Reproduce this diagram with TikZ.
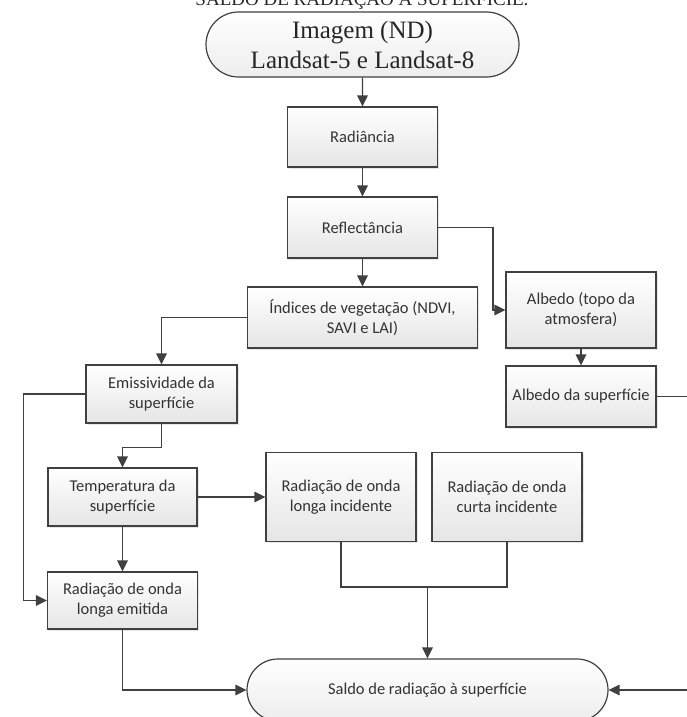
\documentclass[tikz,border=0pt]{standalone}
\usepackage{fontspec}
\setmainfont{Carlito}
\newfontfamily\titlefont{Liberation Serif}
\usetikzlibrary{arrows.meta, shapes.misc, shadows}
\definecolor{linegray}{HTML}{404040}
\definecolor{textgray}{HTML}{333333}

\begin{document}
\begin{tikzpicture}[
    x=1pt, y=-1pt,
    box/.style={rectangle, draw=linegray, line width=1.2pt, top color=white, bottom color=black!10,
        drop shadow={shadow xshift=1.5pt, shadow yshift=-1.5pt, opacity=0.2},
        text=textgray, font=\fontsize{16.5}{20}\selectfont, align=center, inner sep=0pt,
        minimum width=150pt, minimum height=60pt},
    term/.style={rounded rectangle, draw=linegray, line width=1.2pt, top color=white, bottom color=black!7,
        text=textgray, align=center, inner sep=0pt},
    arrow/.style={-{Triangle[length=11pt,width=10.5pt]}, line width=1.4pt, draw=linegray},
    plain/.style={line width=1.4pt, draw=linegray},
    caption/.style={font=\titlefont\fontsize{19}{22}\selectfont, text=black!85, anchor=base}
]
    \useasboundingbox (0,0) rectangle (687,717);

    % caption cut off at the top
    \node[caption] (cap) at (362, 6) {SALDO DE RADIAÇÃO À SUPERFÍCIE.};

    % main column
    \node[term, minimum width=313pt, minimum height=65pt, font=\titlefont\fontsize{25}{30}\selectfont, text=black!85]
        (img) at (362.5, 44.5) {Imagem (ND)\\Landsat-5 e Landsat-8};
    \node[box] (rad) at (362.5, 137) {Radiância};
    \node[box, minimum height=61pt] (refl) at (362.5, 227.5) {Reflectância};
    \node[box, minimum width=230pt, minimum height=61pt] (ndvi) at (362.5, 317.5) {Índices de vegetação (NDVI,\\SAVI e LAI)};

    % albedo
    \node[box, minimum height=76pt] (albtoa) at (581, 310) {Albedo (topo da\\atmosfera)};
    \node[box, minimum height=61pt] (albsup) at (581, 396.5) {Albedo da superfície};

    % left column
    \node[box, minimum width=151pt, minimum height=58pt] (emis) at (161.5, 394) {Emissividade da\\superfície};
    \node[box, minimum width=149pt, minimum height=58pt] (temp) at (122.5, 497) {Temperatura da\\superfície};
    \node[box, minimum height=57pt] (emit) at (122.5, 600.5) {Radiação de onda\\longa emitida};

    % incoming radiation
    \node[box, minimum height=89pt] (linc) at (341, 497) {Radiação de onda\\longa incidente};
    \node[box, minimum height=89pt] (cinc) at (507, 497) {Radiação de onda\\curta incidente};

    \node[term, minimum width=361pt, minimum height=62pt, font=\fontsize{16.5}{20}\selectfont]
        (saldo) at (427.5, 690) {Saldo de radiação à superfície};

    \coordinate (join) at (427.5, 587);
    \coordinate (edgeA) at (690, 396.5);
    \coordinate (edgeB) at (690, 690);

    % connectors
    \draw[arrow] (img) -- (rad);
    \draw[arrow] (rad) -- (refl);
    \draw[arrow] (refl) -- (ndvi);
    \draw[arrow] (refl.east) -- ++(55,0) |- (albtoa.west);
    \draw[arrow] (albtoa) -- (albsup);
    \draw[plain] (albsup.east) -- (edgeA);
    \draw[arrow] (ndvi.west) -| (emis.north);
    \draw[arrow] (emis.south) -- ++(0,24) -| (temp.north);
    \draw[arrow] (emis.west) -- ++(-62,0) |- (emit.west);
    \draw[arrow] (temp) -- (emit);
    \draw[arrow] (temp) -- (linc);
    \draw[plain] (linc.south) |- (join) -| (cinc.south);
    \draw[arrow] (join) -- (saldo.north);
    \draw[arrow] (emit.south) |- (saldo.west);
    \draw[arrow] (edgeB) -- (saldo.east);
\end{tikzpicture}
\end{document}
